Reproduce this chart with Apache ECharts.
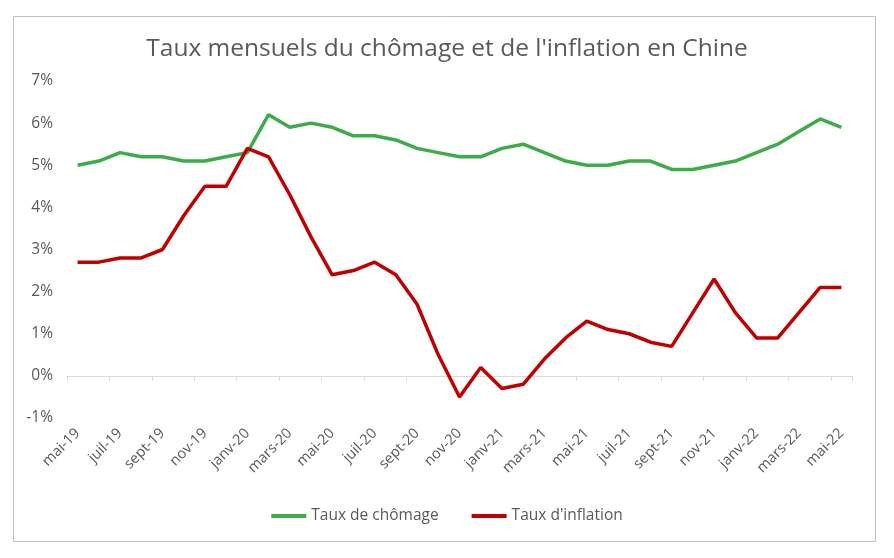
<!DOCTYPE html>
<html>
<head>
<meta charset="utf-8">
<script src="https://cdn.jsdelivr.net/npm/echarts@6/dist/echarts.min.js"></script>
<style>
html,body{margin:0;padding:0;background:#fff;}
#chart{width:894px;height:558px;}
</style>
</head>
<body>
<div id="chart"></div>
<script>
const categories = ["mai-19","juin-19","juil-19","août-19","sept-19","oct-19","nov-19","déc-19",
  "janv-20","févr-20","mars-20","avr-20","mai-20","juin-20","juil-20","août-20","sept-20","oct-20","nov-20","déc-20",
  "janv-21","févr-21","mars-21","avr-21","mai-21","juin-21","juil-21","août-21","sept-21","oct-21","nov-21","déc-21",
  "janv-22","févr-22","mars-22","avr-22","mai-22"];
const chomage = [5.0,5.1,5.3,5.2,5.2,5.1,5.1,5.2,5.3,6.2,5.9,6.0,5.9,5.7,5.7,5.6,5.4,5.3,5.2,5.2,
  5.4,5.5,5.3,5.1,5.0,5.0,5.1,5.1,4.9,4.9,5.0,5.1,5.3,5.5,5.8,6.1,5.9];
const inflation = [2.7,2.7,2.8,2.8,3.0,3.8,4.5,4.5,5.4,5.2,4.3,3.3,2.4,2.5,2.7,2.4,1.7,0.5,-0.5,0.2,
  -0.3,-0.2,0.4,0.9,1.3,1.1,1.0,0.8,0.7,1.5,2.3,1.5,0.9,0.9,1.5,2.1,2.1];
const seriesNames = ["Taux de chômage","Taux d'inflation"];
const titleText = "Taux mensuels du chômage et de l'inflation en Chine";

const chart = echarts.init(document.getElementById('chart'), null, {renderer:'canvas'});
const font = "'Open Sans', sans-serif";
const grey = '#595959';
chart.setOption({
  animation:false,
  backgroundColor:'#fff',
  textStyle:{fontFamily:font},
  title:{text:titleText,left:'center',top:32,textStyle:{fontFamily:font,fontSize:24.5,fontWeight:'normal',color:grey}},
  graphic:[{type:'rect',shape:{x:13.5,y:16.5,width:862,height:525},style:{fill:'none',stroke:'#c0c0c0',lineWidth:1},silent:true,z:-1}],
  legend:{bottom:29,left:'center',itemWidth:35,itemHeight:4,itemGap:33,icon:'rect',
    textStyle:{fontFamily:font,fontSize:15.5,color:grey},data:seriesNames},
  grid:{left:67,right:42,top:81,bottom:140,containLabel:false},
  xAxis:[{
    type:'category',data:categories,boundaryGap:true,position:'bottom',
    axisLine:{show:false,onZero:false},axisTick:{show:false},
    axisLabel:{interval:1,rotate:45,margin:13,fontSize:14.5,color:grey,fontFamily:font}
  },{
    type:'category',data:categories,boundaryGap:true,position:'bottom',
    axisLine:{show:true,onZero:true,lineStyle:{color:'#d9d9d9',width:1}},
    axisTick:{show:true,interval:1,length:5,lineStyle:{color:'#d9d9d9'}},
    axisLabel:{show:false}
  }],
  yAxis:{type:'value',min:-1,max:7,interval:1,
    axisLine:{show:false},axisTick:{show:false},splitLine:{show:false},
    axisLabel:{formatter:'{value}%',fontSize:15.5,color:grey,margin:14,fontFamily:font}},
  series:[
    {name:seriesNames[0],type:'line',data:chomage,symbol:'none',lineStyle:{width:3.5,color:'#3dab49'},itemStyle:{color:'#3dab49'}},
    {name:seriesNames[1],type:'line',data:inflation,symbol:'none',lineStyle:{width:3.5,color:'#c00000'},itemStyle:{color:'#c00000'}}
  ]
});
</script>
</body>
</html>
